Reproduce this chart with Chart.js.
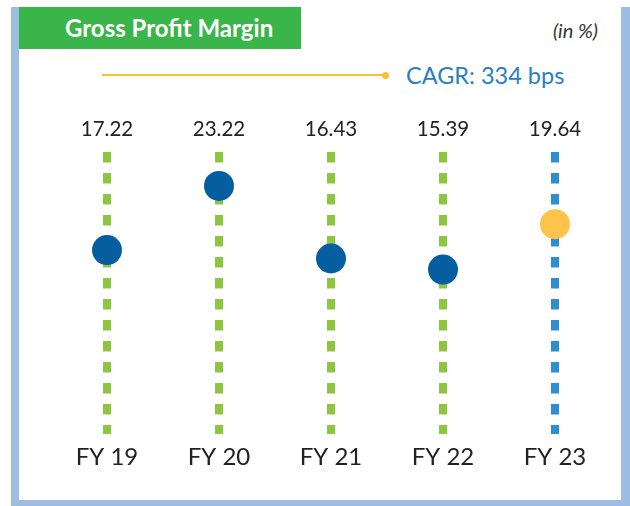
<!DOCTYPE html>
<html>
<head>
<meta charset="utf-8">
<script src="https://cdn.jsdelivr.net/npm/chart.js@4"></script>
<style>
  body { margin: 0; width: 630px; height: 506px; position: relative; background: #fff; font-family: Lato, sans-serif; overflow: hidden; }
  .frame { position: absolute; left: 11px; top: 7px; width: 602px; height: 493px; border-left: 8px solid #9dbde3; border-right: 9px solid #9dbde3; border-bottom: 6px solid #9dbde3; box-sizing: content-box; }
  .title { position: absolute; left: 19px; top: 7px; width: 282px; height: 42px; background: #39b54a; color: #fff; font-weight: bold; font-size: 24px; line-height: 42px; padding-left: 46px; box-sizing: border-box; white-space: nowrap; }
  .unit { position: absolute; right: 32px; top: 17px; font-style: italic; font-size: 20px; line-height: 26px; color: #333; }
  .cagr-line { position: absolute; left: 102px; top: 74px; width: 284px; height: 1.5px; background: #fbbf3a; }
  .cagr-dot { position: absolute; left: 382px; top: 71.5px; width: 7px; height: 7px; border-radius: 50%; background: #fbbf3a; }
  .cagr { position: absolute; left: 406px; top: 60px; font-size: 23.5px; line-height: 30px; color: #2a7fc1; white-space: nowrap; }
  canvas { position: absolute; left: 0; top: 0; }
</style>
</head>
<body>
<div class="frame"></div>
<div class="title">Gross Profit Margin</div>
<div class="unit">(in %)</div>
<div class="cagr-line"></div>
<div class="cagr-dot"></div>
<div class="cagr">CAGR: 334 bps</div>
<canvas id="chart" width="630" height="506"></canvas>
<script>
"use strict";

const years = ["FY 19", "FY 20", "FY 21", "FY 22", "FY 23"];
const margins = [17.22, 23.22, 16.43, 15.39, 19.64];
const dotColors = ["#045ea0", "#045ea0", "#045ea0", "#045ea0", "#fdc34b"];
const stemColors = ["#8dc63f", "#8dc63f", "#8dc63f", "#8dc63f", "#2e8fd0"];

// value labels above each dashed stem
const valueLabels = {
    id: "valueLabels",
    afterDatasetsDraw(chart) {
        const ctx = chart.ctx;
        const x = chart.scales.x;
        ctx.save();
        ctx.font = "20.5px Lato";
        ctx.fillStyle = "#222";
        ctx.textAlign = "center";
        ctx.textBaseline = "middle";
        margins.forEach((v, i) => {
            ctx.fillText(v.toFixed(2), x.getPixelForValue(i), 129);
        });
        ctx.restore();
    }
};

new Chart(document.getElementById("chart"), {
    type: "line",
    data: {
        labels: years,
        datasets: [{
            data: margins,
            showLine: false,
            pointRadius: 15,
            pointHoverRadius: 15,
            pointBorderWidth: 0,
            pointBackgroundColor: dotColors
        }]
    },
    options: {
        responsive: false,
        animation: false,
        events: [],
        layout: { padding: { left: 51, right: 19, top: 152, bottom: 28 } },
        plugins: { legend: { display: false }, tooltip: { enabled: false } },
        scales: {
            x: {
                offset: true,
                grid: {
                    offset: false,
                    drawTicks: false,
                    lineWidth: 8,
                    color: c => stemColors[c.index]
                },
                border: { display: false, dash: [10.5, 10.5] },
                ticks: { padding: 9, color: "#222", font: { family: "Lato", size: 24 } },
                afterFit: s => { s.height = 44; }
            },
            y: { display: false, min: 0, max: 26.4 }
        }
    },
    plugins: [valueLabels]
});
</script>
</body>
</html>
